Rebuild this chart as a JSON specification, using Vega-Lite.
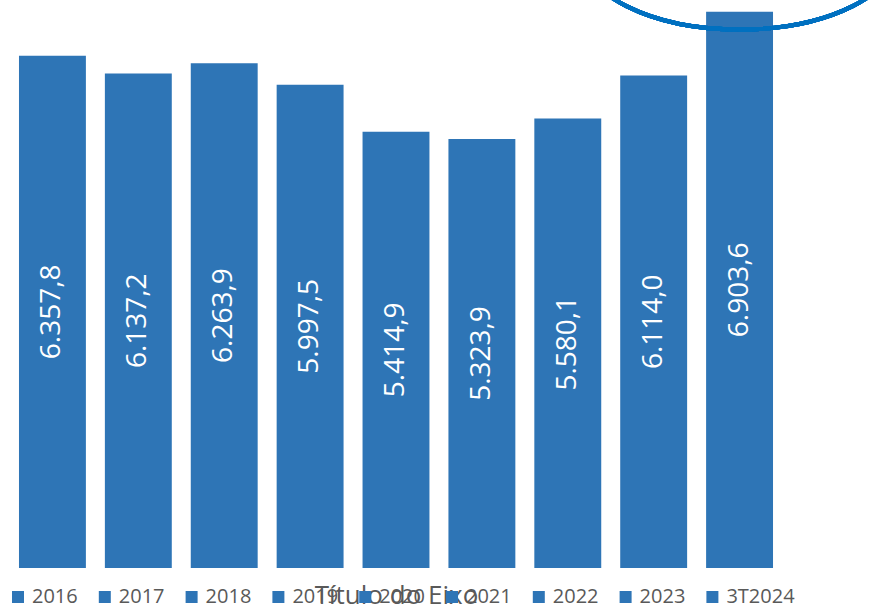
{
  "$schema": "https://vega.github.io/schema/vega-lite/v6.json",
  "autosize": {"type": "none"},
  "width": 792,
  "height": 564,
  "padding": {"left": 0, "top": 4, "right": 77, "bottom": 37},
  "background": "white",
  "config": {"view": {"stroke": null}},
  "data": {
    "values": [
      {"ano": "2016", "valor": 6357.8, "rotulo": "6.357,8"},
      {"ano": "2017", "valor": 6137.2, "rotulo": "6.137,2"},
      {"ano": "2018", "valor": 6263.9, "rotulo": "6.263,9"},
      {"ano": "2019", "valor": 5997.5, "rotulo": "5.997,5"},
      {"ano": "2020", "valor": 5414.9, "rotulo": "5.414,9"},
      {"ano": "2021", "valor": 5323.9, "rotulo": "5.323,9"},
      {"ano": "2022", "valor": 5580.1, "rotulo": "5.580,1"},
      {"ano": "2023", "valor": 6114.0, "rotulo": "6.114,0"},
      {"ano": "3T2024", "valor": 6903.6, "rotulo": "6.903,6"}
    ]
  },
  "encoding": {
    "x": {
      "field": "ano",
      "type": "nominal",
      "sort": null,
      "scale": {"paddingInner": 0.221, "paddingOuter": 0.221},
      "axis": {
        "title": "Título do Eixo",
        "labels": false,
        "ticks": false,
        "domain": false,
        "titleFont": "Open Sans",
        "titleFontSize": 26,
        "titleFontWeight": "normal",
        "titleColor": "#595959",
        "titleY": 35,
        "titleBaseline": "alphabetic"
      }
    }
  },
  "layer": [
    {
      "mark": {"type": "bar", "color": "#2E75B6"},
      "encoding": {
        "y": {"field": "valor", "type": "quantitative", "scale": {"domain": [0, 7000], "nice": false}, "axis": null},
        "color": {
          "field": "ano",
          "type": "nominal",
          "sort": ["2016", "2017", "2018", "2019", "2020", "2021", "2022", "2023", "3T2024"],
          "scale": {"range": ["#2E75B6", "#2E75B6", "#2E75B6", "#2E75B6", "#2E75B6", "#2E75B6", "#2E75B6", "#2E75B6", "#2E75B6"]},
          "legend": {
            "title": null,
            "orient": "none",
            "legendX": 8,
            "legendY": 583,
            "direction": "horizontal",
            "columns": 9,
            "gridAlign": "none",
            "columnPadding": 16.8,
            "padding": 0,
            "symbolType": "square",
            "symbolSize": 144,
            "symbolStrokeWidth": 0,
            "labelOffset": 4,
            "labelFont": "Open Sans",
            "labelFontSize": 20,
            "labelColor": "#595959",
            "labelLimit": 200
          }
        }
      }
    },
    {
      "mark": {"type": "text", "angle": 270, "align": "center", "baseline": "middle", "font": "Open Sans", "fontSize": 28, "color": "white"},
      "encoding": {
        "y": {"field": "valor", "type": "quantitative", "scale": {"domain": [0, 14000], "nice": false}, "axis": null},
        "text": {"field": "rotulo"}
      }
    },
    {
      "mark": {
        "type": "point",
        "shape": "M -1 0 A 1 0.5 0 1 0 1 0 A 1 0.5 0 1 0 -1 0 Z",
        "filled": false,
        "stroke": "#0070C0",
        "strokeWidth": 4,
        "size": 102400,
        "opacity": 1
      },
      "encoding": {
        "x": {"datum": "3T2024"},
        "y": {"datum": 7676, "type": "quantitative", "scale": {"domain": [0, 7000], "nice": false}, "axis": null}
      }
    }
  ],
  "resolve": {"scale": {"y": "independent"}}
}
